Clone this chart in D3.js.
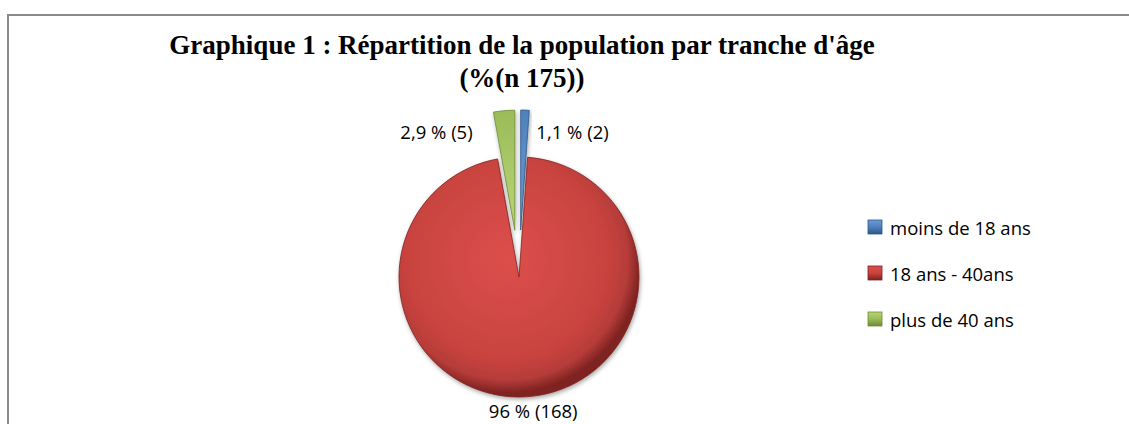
<!DOCTYPE html>
<html>
<head>
<meta charset="utf-8">
<script src="https://cdn.jsdelivr.net/npm/d3@7"></script>
<style>
body { margin: 0; background: #fff; }
</style>
</head>
<body>
<script>
const width = 1129
const height = 424

// data
const categories = ['moins de 18 ans', '18 ans - 40ans', 'plus de 40 ans']
const counts = [2, 168, 5]
const percentLabels = ['1,1 %', '96 %', '2,9 %']
const colors = ['#4f81bd', '#c9433f', '#9bbb59']
const lights = ['#6d9ad3', '#dc4f4b', '#b5d374']
const darks = ['#2c5788', '#7e2220', '#6e8a36']
const explode = [47, 0, 47]
const titleLines = ["Graphique 1 : Répartition de la population par tranche d'âge", '(%(n 175))']

const svg = d3.select('body').append('svg')
  .attr('width', width)
  .attr('height', height)

// frame
svg.append('rect')
  .attr('x', 8).attr('y', 15)
  .attr('width', 1140).attr('height', 430)
  .attr('fill', 'none')
  .attr('stroke', '#8a8a8a')
  .attr('stroke-width', 2)

// title
svg.append('text')
  .attr('x', 522).attr('y', 54)
  .attr('text-anchor', 'middle')
  .attr('font-family', '"Liberation Serif", "Times New Roman", serif')
  .attr('font-weight', 'bold')
  .attr('font-size', 27)
  .selectAll('tspan')
  .data(titleLines)
  .join('tspan')
  .attr('x', 522)
  .attr('dy', (d, i) => i === 0 ? 0 : 33)
  .text(d => d)

const defs = svg.append('defs')
const R = 120
const cx = 519
const cy = 277

colors.forEach((c, i) => {
  const g = defs.append('radialGradient')
    .attr('id', 'grad' + i)
    .attr('gradientUnits', 'userSpaceOnUse')
    .attr('cx', -R * 0.1).attr('cy', -R * 0.15).attr('r', R * 1.12)
  g.append('stop').attr('offset', '0%').attr('stop-color', lights[i])
  g.append('stop').attr('offset', '75%').attr('stop-color', c)
  g.append('stop').attr('offset', '90%').attr('stop-color', d3.color(c).darker(0.3))
  g.append('stop').attr('offset', '100%').attr('stop-color', darks[i])

  const lg = defs.append('linearGradient')
    .attr('id', 'lg' + i)
    .attr('x1', 0).attr('y1', 0).attr('x2', 0).attr('y2', 1)
  lg.append('stop').attr('offset', '0%').attr('stop-color', lights[i])
  lg.append('stop').attr('offset', '50%').attr('stop-color', c)
  lg.append('stop').attr('offset', '100%').attr('stop-color', darks[i])
})

const shadow = defs.append('filter').attr('id', 'shadow')
  .attr('x', '-20%').attr('y', '-20%').attr('width', '140%').attr('height', '140%')
shadow.append('feDropShadow')
  .attr('dx', 1).attr('dy', 2).attr('stdDeviation', 2)
  .attr('flood-color', '#000').attr('flood-opacity', 0.35)

const pie = d3.pie().sort(null).value(d => d)
const arcs = pie(counts)
const arc = d3.arc().innerRadius(0).outerRadius(R)

const slices = svg.append('g')
  .attr('transform', `translate(${cx},${cy})`)
  .selectAll('g')
  .data(arcs)
  .join('g')
  .attr('transform', (d, i) => {
    const m = (d.startAngle + d.endAngle) / 2
    return `translate(${Math.sin(m) * explode[i]},${-Math.cos(m) * explode[i]})`
  })

slices.append('path')
  .attr('d', arc)
  .attr('fill', (d, i) => `url(#grad${i})`)
  .attr('stroke', (d, i) => darks[i])
  .attr('stroke-width', 0.8)
  .attr('filter', 'url(#shadow)')

// labels
const labelFont = '"Open Sans", "Noto Sans", sans-serif'
slices.append('text')
  .attr('font-family', labelFont)
  .attr('font-size', 18.5)
  .attr('fill', '#000')
  .attr('dominant-baseline', 'central')
  .each(function(d, i) {
    const m = (d.startAngle + d.endAngle) / 2
    const t = d3.select(this)
    if (i === 1) {
      t.attr('x', Math.sin(m) * (R + 14) + 7)
        .attr('y', -Math.cos(m) * (R + 14))
        .attr('text-anchor', 'middle')
    } else {
      const rr = R * 0.85
      const side = Math.sin(m) >= 0 ? 1 : -1
      t.attr('x', Math.sin(m) * rr + (side > 0 ? 12 : -33))
        .attr('y', -Math.cos(m) * rr + 3)
        .attr('text-anchor', side > 0 ? 'start' : 'end')
    }
    t.text(`${percentLabels[i]} (${counts[i]})`)
  })

// legend
const legend = svg.append('g')
  .attr('transform', 'translate(868,227)')
  .selectAll('g')
  .data(categories)
  .join('g')
  .attr('transform', (d, i) => `translate(0,${i * 46})`)

legend.append('rect')
  .attr('x', 0).attr('y', -7)
  .attr('width', 14).attr('height', 14)
  .attr('fill', (d, i) => `url(#lg${i})`)
  .attr('stroke', (d, i) => darks[i])
  .attr('stroke-width', 0.8)

legend.append('text')
  .attr('x', 22).attr('y', 0)
  .attr('dominant-baseline', 'central')
  .attr('font-family', labelFont)
  .attr('font-size', 18.5)
  .text(d => d)
</script>
</body>
</html>
